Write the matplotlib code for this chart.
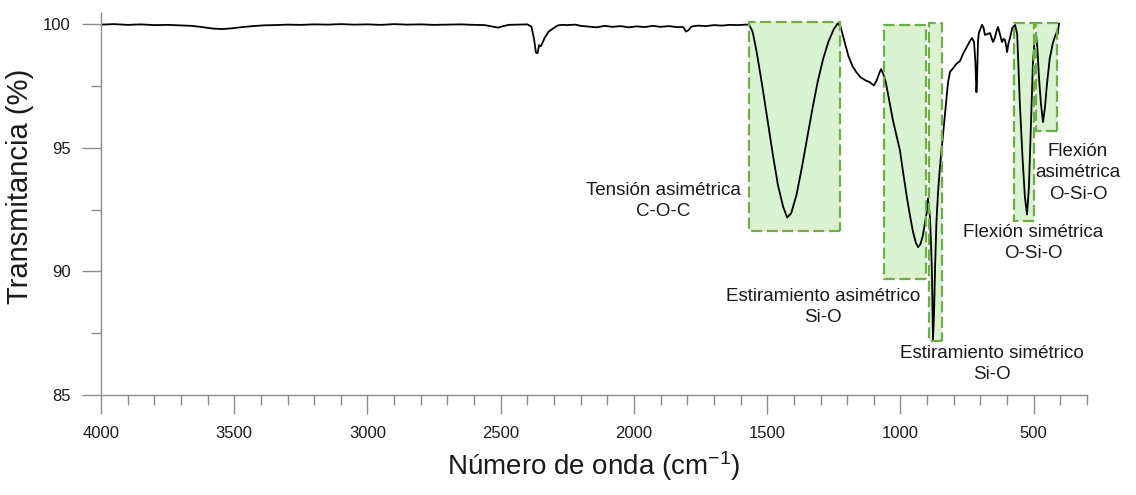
import matplotlib
matplotlib.use("Agg")
import matplotlib.pyplot as plt
from matplotlib.patches import Rectangle
from matplotlib.ticker import MultipleLocator

plt.rcParams['font.family'] = ['Liberation Sans', 'DejaVu Sans']
plt.rcParams['mathtext.default'] = 'regular'

# FTIR spectrum (wavenumber cm-1, transmittance %)
wavenumber = [
    4000, 3950, 3900, 3850, 3800, 3750, 3700, 3660, 3620, 3580, 3545, 3510,
    3470, 3430, 3390, 3350, 3300, 3250, 3200, 3150, 3100, 3050, 3000, 2950,
    2900, 2850, 2800, 2750, 2700, 2650, 2600, 2560, 2530, 2510, 2490, 2470,
    2440, 2400, 2385, 2375, 2368, 2362, 2356, 2350, 2343, 2335, 2320, 2300,
    2285, 2270, 2250, 2220, 2200, 2170, 2140, 2110, 2080, 2050, 2020, 1990,
    1960, 1930, 1900, 1870, 1840, 1815, 1805, 1795, 1785, 1760, 1730, 1700,
    1670, 1640, 1610, 1580, 1568, 1555, 1540, 1520, 1500, 1480, 1460, 1440,
    1425, 1410, 1390, 1370, 1350, 1330, 1310, 1290, 1270, 1250, 1235, 1225,
    1210, 1195, 1180, 1165, 1150, 1130, 1115, 1100, 1090, 1080, 1073, 1065,
    1055, 1040, 1028, 1015, 1002, 990, 976, 965, 953, 942, 934, 925,
    916, 908, 901, 897, 893, 889, 885, 882, 878, 874, 870, 865,
    859, 852, 844, 833, 822, 814, 800, 790, 777, 765, 751, 740,
    732, 724, 719, 715, 713, 709, 706, 700, 694, 688, 683, 674,
    664, 658, 653, 649, 645, 640, 634, 627, 619, 613, 608, 603,
    600, 595, 589, 580, 570, 562, 552, 542, 533, 525, 518, 510,
    503, 496, 491, 486, 480, 473, 465, 458, 450, 440, 428, 420,
    413, 410, 405,
]
transmittance = [
    99.98, 100.00, 99.97, 99.99, 99.96, 99.97, 99.95, 99.93, 99.88, 99.82, 99.80, 99.83,
    99.88, 99.92, 99.95, 99.96, 99.98, 99.97, 99.99, 99.98, 100.00, 99.98, 99.99, 99.97,
    100.00, 99.98, 99.99, 99.97, 99.98, 99.99, 99.97, 99.96, 99.90, 99.86, 99.92, 99.97,
    99.98, 99.99, 99.90, 99.40, 98.85, 98.82, 99.15, 99.10, 99.25, 99.45, 99.70, 99.85,
    99.95, 99.97, 99.96, 99.98, 99.93, 99.90, 99.87, 99.93, 99.89, 99.92, 99.87, 99.91,
    99.88, 99.93, 99.89, 99.92, 99.88, 99.88, 99.70, 99.76, 99.90, 99.94, 99.92, 99.96,
    99.94, 99.97, 99.96, 99.98, 99.98, 99.70, 98.90, 97.60, 96.20, 94.80, 93.50, 92.60,
    92.18, 92.35, 93.10, 94.20, 95.40, 96.60, 97.70, 98.60, 99.30, 99.80, 100.03, 99.90,
    99.30, 98.70, 98.30, 98.05, 97.85, 97.72, 97.65, 97.52, 97.70, 98.00, 98.18, 98.00,
    97.65, 96.80, 96.10, 95.50, 94.90, 94.00, 93.00, 92.30, 91.60, 91.15, 90.98, 91.10,
    91.45, 91.95, 92.40, 92.95, 92.60, 92.10, 91.00, 90.00, 87.25, 88.30, 90.20, 92.00,
    93.20, 94.20, 95.10, 96.30, 97.60, 98.07, 98.25, 98.40, 98.50, 98.80, 99.08, 99.30,
    99.44, 99.28, 98.50, 97.25, 97.60, 99.30, 99.64, 99.80, 99.97, 99.85, 99.56, 99.60,
    99.64, 99.45, 99.28, 99.35, 99.48, 99.70, 99.89, 99.60, 99.28, 99.40, 99.36, 99.10,
    98.87, 99.20, 99.44, 99.85, 99.97, 99.60, 96.80, 94.60, 93.00, 92.30, 93.40, 96.00,
    98.40, 99.45, 99.56, 99.00, 97.80, 96.80, 96.04, 96.60, 97.60, 98.60, 99.24, 99.50,
    99.68, 99.60, 100.02,
]

# highlighted bands: (left cm-1, right cm-1, bottom %, top %)
band_left = [1568, 1062, 894, 574, 492]
band_right = [1227, 905, 843, 499, 413]
band_bottom = [91.63, 89.69, 87.17, 92.04, 95.68]
band_top = [100.08, 99.97, 100.05, 100.05, 100.05]

# annotation texts and their anchor points (cm-1, %)
labels = [
    "Tensión asimétrica\nC-O-C",
    "Estiramiento asimétrico\nSi-O",
    "Estiramiento simétrico\nSi-O",
    "Flexión simétrica\nO-Si-O",
    "Flexión\nasimétrica\nO-Si-O",
]
label_x = [1891, 1290, 657, 503, 334]
label_y = [92.85, 88.56, 86.25, 91.15, 93.98]

fig = plt.figure(figsize=(11.36, 4.95), dpi=100)
ax = fig.add_axes([101 / 1136, 1 - 395 / 495, 986 / 1136, 382 / 495])

for x0, x1, y0, y1 in zip(band_left, band_right, band_bottom, band_top):
    ax.add_patch(Rectangle((x1, y0), x0 - x1, y1 - y0, facecolor='#d9f2d0',
                           edgecolor='none', zorder=1))
    ax.add_patch(Rectangle((x1, y0), x0 - x1, y1 - y0, facecolor='none',
                           edgecolor='#70ad47', linestyle=(0, (5, 2)),
                           linewidth=1.6, zorder=3))

ax.plot(wavenumber, transmittance, color='black', linewidth=1.3, zorder=2)

for txt, lx, ly in zip(labels, label_x, label_y):
    ax.text(lx, ly, txt, ha='center', va='center', fontsize=13.5,
            color='#1a1a1a', linespacing=1.35, zorder=4)

ax.set_xlim(4000, 300)
ax.set_ylim(85, 100.45)
ax.xaxis.set_major_locator(MultipleLocator(500))
ax.xaxis.set_minor_locator(MultipleLocator(100))
ax.yaxis.set_major_locator(MultipleLocator(5))
ax.yaxis.set_minor_locator(MultipleLocator(2.5))
ax.set_xticks([4000, 3500, 3000, 2500, 2000, 1500, 1000, 500])

for side in ['top', 'right']:
    ax.spines[side].set_visible(False)
for side in ['left', 'bottom']:
    ax.spines[side].set_color('#8c8c8c')
    ax.spines[side].set_linewidth(1.0)

ax.tick_params(which='major', length=14, width=1.0, color='#8c8c8c',
               labelsize=12, labelcolor='#1a1a1a', pad=8)
ax.tick_params(which='minor', length=7, width=1.0, color='#8c8c8c')

fig.text(20 / 1136, 1 - 186 / 495, 'Transmitancia (%)', rotation=90,
         ha='center', va='center', fontsize=21, color='#1a1a1a')
fig.text(594 / 1136, 1 - 466 / 495, r'Número de onda (cm$^{-1}$)',
         ha='center', va='center', fontsize=20, color='#1a1a1a')

fig.savefig('out.png', dpi=100)
